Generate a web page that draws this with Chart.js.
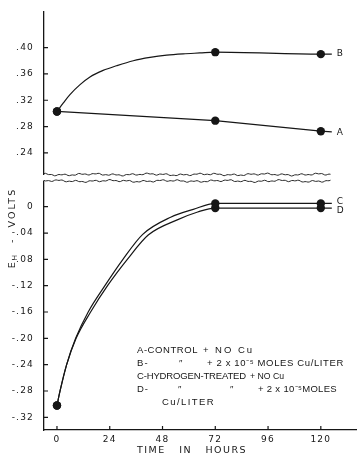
<!DOCTYPE html>
<html>
<head>
<meta charset="utf-8">
<script src="https://cdn.jsdelivr.net/npm/chart.js@4.4.1/dist/chart.umd.min.js"></script>
<style>
  html, body { margin: 0; padding: 0; background: #fff; }
</style>
</head>
<body>
<canvas id="myChart" width="357" height="456"></canvas>
<script>
// axis ticks
const xTicks = [0, 24, 48, 72, 96, 120];
const yTopTicks = [0.24, 0.28, 0.32, 0.36, 0.40];
const yTopLabels = [".24", ".28", ".32", ".36", ".40"];
const yBotTicks = [0, -0.04, -0.08, -0.12, -0.16, -0.20, -0.24, -0.28, -0.32];
const yBotLabels = ["0", "-.04", "-.08", "-.12", "-.16", "-.20", "-.24", "-.28", "-.32"];

// curves (time in hours, Eh in volts)
const curveA_t = [0, 72, 120, 125];
const curveA_v = [0.303, 0.289, 0.273, 0.272];
const curveB_t = [0, 2.9, 5.9, 10.5, 15, 21, 27.1, 34.7, 42.3, 49.9, 57.4, 65, 72, 120, 125];
const curveB_v = [0.303, 0.316, 0.3286, 0.3437, 0.3553, 0.3653, 0.3724, 0.380, 0.385, 0.3885, 0.3905, 0.3918, 0.393, 0.390, 0.390];
const curveC_t = [0, 1.4, 4.4, 8.5, 14.2, 21.8, 30, 39, 51.7, 62, 72, 120, 125];
const curveC_v = [-0.302, -0.28, -0.24, -0.20, -0.16, -0.12, -0.08, -0.042, -0.016, -0.004, 0.005, 0.005, 0.005];
const curveD_t = [0, 1.4, 4.4, 8.7, 15.3, 23, 32, 41.5, 54.7, 64, 72, 120, 125];
const curveD_v = [-0.302, -0.28, -0.24, -0.20, -0.16, -0.12, -0.08, -0.043, -0.02, -0.008, -0.002, -0.002, -0.002];

// measured points (dots)
const markT = [0, 72, 120];
const markA = [0.303, 0.289, 0.273];
const markB = [0.303, 0.393, 0.390];
const markC = [-0.302, 0.005, 0.005];
const markD = [-0.302, -0.002, -0.002];

const seriesNames = ["A", "B", "C", "D"];
const legendLines = [
  [["A-CONTROL", 137, 198], ["+ NO Cu", 203, 254]],
  [["B-", 137, 149], ["\u2033", 179, 183], ["+ 2 x 10\u207B\u2075 MOLES Cu/LITER", 207, 344]],
  [["C-HYDROGEN-TREATED", 137, 246], ["+ NO Cu", 250, 284]],
  [["D-", 137, 149], ["\u2033", 178, 182], ["\u2033", 230, 234], ["+ 2 x 10\u207B\u2075MOLES", 258, 337]],
  [["Cu/LITER", 162, 215]]
];

const ink = "#161616";
const font = "'DejaVu Sans', sans-serif";
const textFont = "'Liberation Sans', Arial, sans-serif";

function pts(t, v) {
  return t.map((x, i) => ({ x: x, y: v[i] }));
}

function lineSet(t, v, axis, smooth) {
  return {
    data: pts(t, v), yAxisID: axis, borderColor: ink, borderWidth: 1.2, showLine: true,
    pointRadius: 0, tension: 0, cubicInterpolationMode: smooth ? "monotone" : "default"
  };
}

function dotSet(v, axis) {
  return {
    data: pts(markT, v), yAxisID: axis, showLine: false,
    pointRadius: 4.2, pointBackgroundColor: ink, pointBorderColor: ink, pointBorderWidth: 0
  };
}

// draw text so it spans about w pixels: spread letters, or squeeze if too wide
function fitText(ctx, str, x, y, w) {
  ctx.letterSpacing = "0px";
  const m = ctx.measureText(str).width;
  const sp = str.length > 1 ? (w - m) / str.length : 0;
  if (sp >= -0.2) {
    ctx.letterSpacing = sp + "px";
    ctx.fillText(str, x, y);
    ctx.letterSpacing = "0px";
  } else {
    ctx.save();
    ctx.translate(x, y);
    ctx.scale(w / m, 1);
    ctx.fillText(str, 0, 0);
    ctx.restore();
  }
}

function wave(x, k) {
  return 0.6 * Math.sin(x * 0.37 + k) + 0.45 * Math.sin(x * 0.93 + 2 * k) + 0.5 * Math.sin(x * 0.11 + k * 3);
}

const decor = {
  id: "decor",
  beforeDraw(chart) {
    chart.ctx.letterSpacing = "1.2px";
  },
  afterDraw(chart) {
    const ctx = chart.ctx;
    ctx.letterSpacing = "0px";
    const sx = chart.scales.x, st = chart.scales.yTop, sb = chart.scales.yBot;
    ctx.save();
    ctx.strokeStyle = ink;
    ctx.lineWidth = 1.2;

    // inward tick marks
    ctx.beginPath();
    xTicks.forEach(v => {
      const px = sx.getPixelForValue(v);
      ctx.moveTo(px, sx.top);
      ctx.lineTo(px, sx.top - 4);
    });
    [st, sb].forEach(s => s.ticks.forEach(t => {
      const py = s.getPixelForValue(t.value);
      ctx.moveTo(s.right, py);
      ctx.lineTo(s.right + 4, py);
    }));
    ctx.stroke();

    // axis break
    const left = sx.left, right = sx.getPixelForValue(125);
    ctx.fillStyle = "#fff";
    ctx.fillRect(left - 3, 175, right - left + 6, 5.5);
    ctx.lineWidth = 0.9;
    [[174.5, 0.3], [181, 1.7]].forEach(([yb, k]) => {
      ctx.beginPath();
      for (let x = left; x <= right; x += 1.5) {
        const y = yb + wave(x, k);
        if (x === left) ctx.moveTo(x, y); else ctx.lineTo(x, y);
      }
      ctx.stroke();
    });

    // series letters at line ends
    ctx.fillStyle = ink;
    ctx.font = "9px " + font;
    ctx.textBaseline = "middle";
    ctx.textAlign = "left";
    const ends = [
      [st, curveA_v[curveA_v.length - 1], 1],
      [st, curveB_v[curveB_v.length - 1], 0],
      [sb, curveC_v[curveC_v.length - 1], -2],
      [sb, curveD_v[curveD_v.length - 1], 3]
    ];
    ends.forEach(([s, v, off], i) => {
      ctx.fillText(seriesNames[i], sx.getPixelForValue(125) + 5, s.getPixelForValue(v) + off);
    });

    // legend text
    ctx.font = "9.5px " + textFont;
    legendLines.forEach((segs, i) => {
      const y = 350 + i * 13.1;
      segs.forEach(([str, x0, x1]) => fitText(ctx, str, x0, y, x1 - x0));
    });

    // x title
    ctx.font = "9.5px " + font;
    fitText(ctx, "TIME   IN   HOURS", 137, 451, 110);

    // y title with subscript
    ctx.translate(13, 228);
    ctx.rotate(-Math.PI / 2);
    ctx.textAlign = "left";
    ctx.letterSpacing = "2px";
    ctx.font = "9.5px " + font;
    const wE = ctx.measureText("E").width;
    const rest = "  -  VOLTS";
    const wR = ctx.measureText(rest).width;
    ctx.font = "7px " + font;
    const wH = ctx.measureText("H").width;
    let x0 = -(wE + wH + wR) / 2;
    ctx.font = "9.5px " + font;
    ctx.fillText("E", x0, 0);
    ctx.font = "7px " + font;
    ctx.fillText("H", x0 + wE, 2.5);
    ctx.font = "9.5px " + font;
    ctx.fillText(rest, x0 + wE + wH, 0);
    ctx.restore();
  }
};

function noPad(s) {
  s.paddingLeft = 0; s.paddingRight = 0; s.paddingTop = 0; s.paddingBottom = 0;
}

new Chart(document.getElementById("myChart"), {
  type: "scatter",
  data: {
    datasets: [
      lineSet(curveA_t, curveA_v, "yTop", false),
      lineSet(curveB_t, curveB_v, "yTop", true),
      lineSet(curveC_t, curveC_v, "yBot", true),
      lineSet(curveD_t, curveD_v, "yBot", true),
      dotSet(markA, "yTop"),
      dotSet(markB, "yTop"),
      dotSet(markC, "yBot"),
      dotSet(markD, "yBot")
    ]
  },
  options: {
    responsive: false,
    animation: false,
    devicePixelRatio: 1,
    layout: { autoPadding: false, padding: { top: 12, left: 0, right: 1, bottom: 0 } },
    plugins: { legend: { display: false }, tooltip: { enabled: false } },
    scales: {
      x: {
        type: "linear", min: -5.9, max: 136,
        afterBuildTicks: s => { s.ticks = xTicks.map(v => ({ value: v })); },
        afterFit: s => { s.height = 26; noPad(s); },
        grid: { display: false },
        border: { color: ink, width: 1.3 },
        ticks: { color: ink, font: { family: font, size: 9 }, padding: -4, autoSkip: false, maxRotation: 0,
          callback: v => String(v) }
      },
      yBot: {
        type: "linear", position: "left", stack: "v", stackWeight: 252.5,
        min: -0.3393, max: 0.0444,
        afterBuildTicks: s => { s.ticks = yBotTicks.map(v => ({ value: v })); },
        afterFit: s => { s.width = 44; noPad(s); },
        grid: { display: false },
        border: { color: ink, width: 1.3 },
        ticks: { color: ink, font: { family: font, size: 9 }, padding: 2, autoSkip: false,
          callback: (v, i) => yBotLabels[i] }
      },
      yTop: {
        type: "linear", position: "left", stack: "v", stackWeight: 165.5,
        min: 0.2027, max: 0.454,
        afterBuildTicks: s => { s.ticks = yTopTicks.map(v => ({ value: v })); },
        afterFit: s => { s.width = 44; noPad(s); },
        grid: { display: false },
        border: { color: ink, width: 1.3 },
        ticks: { color: ink, font: { family: font, size: 9 }, padding: 2, autoSkip: false,
          callback: (v, i) => yTopLabels[i] }
      }
    }
  },
  plugins: [decor]
});
</script>
</body>
</html>
